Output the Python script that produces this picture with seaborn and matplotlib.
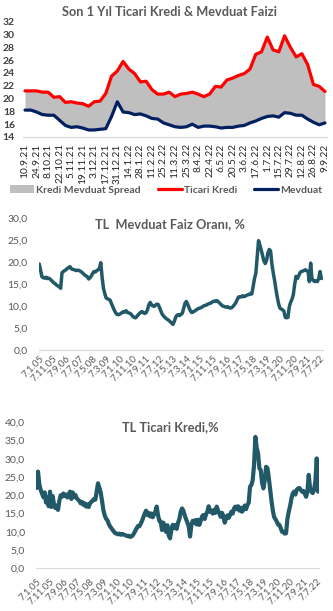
import numpy as np
import pandas as pd
import matplotlib
matplotlib.use("Agg")
import matplotlib.pyplot as plt
from matplotlib.patches import Patch
from matplotlib.lines import Line2D
import seaborn as sns

# ---------------- data ----------------
week_labels = ["10.9.21", "24.9.21", "8.10.21", "22.10.21", "5.11.21", "19.11.21",
               "3.12.21", "17.12.21", "31.12.21", "14.1.22", "28.1.22", "11.2.22",
               "25.2.22", "11.3.22", "25.3.22", "8.4.22", "22.4.22", "6.5.22",
               "20.5.22", "3.6.22", "17.6.22", "1.7.22", "15.7.22", "29.7.22",
               "12.8.22", "26.8.22", "9.9.22"]

ticari_kredi_1y = [21.2, 21.2, 21.2, 21.0, 21.0, 20.2, 20.3, 19.4, 19.5, 19.3,
                   19.2, 18.8, 19.5, 19.6, 20.8, 23.5, 24.3, 25.8, 24.6, 23.9,
                   22.6, 22.7, 21.4, 20.7, 20.7, 21.0, 20.3, 20.7, 20.8, 21.0,
                   20.7, 20.3, 20.7, 21.9, 21.8, 22.9, 23.2, 23.6, 23.9, 24.6,
                   26.9, 27.3, 29.6, 27.6, 27.3, 29.8, 28.0, 26.5, 27.0, 25.3,
                   22.2, 21.9, 21.1]

mevduat_1y = [18.2, 18.2, 17.9, 17.5, 17.4, 17.4, 16.6, 15.8, 15.5, 15.6,
              15.4, 15.1, 15.1, 15.2, 15.3, 17.2, 19.5, 17.9, 17.8, 17.5,
              17.6, 17.3, 16.9, 16.8, 16.2, 15.9, 15.6, 15.5, 15.6, 16.0,
              15.5, 15.7, 15.7, 15.6, 15.4, 15.5, 15.5, 15.7, 15.8, 16.2,
              16.5, 16.9, 17.2, 17.3, 17.1, 17.8, 17.7, 17.4, 17.4, 16.8,
              16.3, 15.9, 16.2]

long_labels = ["7.1.05", "7.11.05", "7.9.06", "7.7.07", "7.5.08", "7.3.09",
               "7.1.10", "7.11.10", "7.9.11", "7.7.12", "7.5.13", "7.3.14",
               "7.1.15", "7.11.15", "7.9.16", "7.7.17", "7.5.18", "7.3.19",
               "7.1.20", "7.11.20", "7.9.21", "7.7.22"]

# monthly readings, Jan 2005 .. Aug 2022
mevduat_long = [
    19.5, 18.0, 16.6, 16.4, 16.3, 16.5, 16.2, 16.3, 16.1, 15.8, 15.5, 15.2,
    15.0, 14.7, 14.5, 14.3, 14.0, 17.5, 17.8, 18.0, 18.2, 18.5, 18.7, 18.9,
    18.4, 18.3, 18.2, 18.1, 18.0, 18.1, 18.0, 17.8, 17.6, 17.3, 17.0, 16.8,
    16.6, 16.1, 16.4, 16.8, 17.4, 17.8, 17.7, 18.0, 18.2, 18.5, 19.8, 16.5,
    14.0, 12.8, 11.8, 11.6, 11.5, 11.3, 10.5, 9.8, 9.1, 8.5, 8.1, 8.0,
    8.1, 8.3, 8.5, 8.7, 8.6, 8.9, 8.5, 8.4, 8.3, 8.0, 7.6, 7.4,
    7.3, 7.6, 8.0, 8.3, 8.6, 8.7, 8.4, 8.3, 8.5, 9.2, 10.3, 10.8,
    10.2, 10.0, 9.9, 10.2, 10.4, 10.3, 9.6, 8.8, 8.1, 7.7, 7.4, 7.1,
    6.9, 6.7, 6.4, 6.1, 5.8, 6.5, 7.4, 7.9, 8.0, 7.8, 8.1, 8.3,
    9.5, 10.6, 11.0, 10.4, 9.6, 8.9, 8.5, 8.6, 8.8, 9.0, 9.2, 9.4,
    9.5, 9.6, 9.8, 10.0, 10.1, 10.2, 10.4, 10.5, 10.6, 10.8, 11.0, 11.1,
    11.0, 11.2, 10.9, 10.6, 10.3, 10.0, 9.9, 9.8, 9.7, 9.8, 9.6, 9.5,
    9.6, 9.9, 10.3, 10.7, 11.4, 12.0, 12.1, 12.0, 12.3, 12.1, 12.2, 12.4,
    12.5, 12.6, 12.8, 12.7, 14.5, 16.2, 17.4, 21.0, 24.8, 23.8, 22.7, 21.5,
    20.2, 19.6, 20.3, 22.0, 22.8, 22.5, 19.5, 17.5, 15.8, 13.8, 12.0, 10.5,
    9.5, 9.3, 9.1, 8.8, 7.4, 7.3, 7.4, 9.8, 10.8, 11.5, 12.5, 14.8,
    16.7, 16.2, 16.8, 17.5, 17.8, 17.9, 18.0, 18.2, 18.0, 17.8, 15.5, 19.7,
    16.0, 15.8, 15.5, 15.7, 15.5, 16.2, 17.8, 16.2]

kredi_long = [
    22.0, 26.5, 23.0, 21.5, 20.5, 19.5, 20.8, 18.0, 19.5, 17.0, 21.0, 16.8,
    19.8, 17.5, 16.5, 17.2, 16.0, 18.5, 20.0, 19.6, 20.5, 19.8, 20.2, 19.4,
    20.3, 21.0, 19.0, 20.8, 19.5, 20.1, 19.2, 18.8, 18.5, 17.8, 18.2, 17.4,
    17.8, 16.9, 17.5, 16.8, 17.8, 18.2, 18.5, 19.0, 18.8, 21.0, 23.3, 22.0,
    20.8, 18.5, 16.0, 14.5, 13.6, 13.2, 12.2, 11.5, 11.0, 10.5, 10.0, 9.6,
    9.5, 9.3, 9.5, 9.2, 9.4, 9.3, 9.1, 9.0, 8.8, 8.9, 8.6, 8.7,
    9.0, 9.6, 10.3, 11.0, 11.6, 11.5, 12.2, 13.0, 14.0, 15.0, 15.8, 14.6,
    15.2, 14.2, 15.0, 14.0, 14.8, 15.5, 16.9, 14.5, 13.0, 12.8, 10.5, 12.5,
    11.0, 10.0, 11.8, 9.0, 8.2, 10.5, 11.9, 11.0, 11.8, 10.8, 12.5, 13.5,
    15.5, 16.4, 15.8, 14.5, 13.5, 12.5, 11.5, 8.7, 11.8, 13.0, 12.5, 13.2,
    12.0, 13.3, 11.9, 13.0, 14.2, 14.6, 13.5, 14.8, 15.5, 17.0, 15.5, 15.8,
    15.0, 16.0, 15.2, 16.9, 15.8, 15.0, 14.1, 15.2, 14.3, 12.5, 13.7, 14.5,
    13.8, 14.6, 15.5, 15.0, 16.4, 16.9, 16.2, 17.0, 15.8, 16.6, 15.5, 16.0,
    17.2, 16.2, 17.3, 18.0, 22.4, 22.8, 24.2, 28.3, 36.0, 33.0, 31.5, 27.4,
    26.9, 23.5, 21.9, 24.0, 27.8, 27.5, 25.0, 21.9, 18.7, 16.0, 14.1, 13.5,
    12.8, 12.0, 11.9, 11.0, 10.0, 10.0, 9.5, 9.6, 13.5, 15.5, 17.0, 19.0,
    20.5, 21.0, 20.2, 21.5, 21.9, 22.0, 21.5, 21.0, 21.2, 20.5, 19.6, 21.0,
    25.6, 22.0, 21.0, 20.6, 21.5, 24.0, 30.1, 21.0]

# ---------------- style ----------------
sns.set_theme(style="white")
plt.rcParams["font.family"] = ["Lato", "DejaVu Sans"]

W, H = 333, 611
fig = plt.figure(figsize=(W / 100, H / 100), dpi=100)
fig.patch.set_facecolor("white")


def px_axes(left, top, right, bottom):
    return fig.add_axes([left / W, 1 - bottom / H, (right - left) / W, (bottom - top) / H])


TXT = "#595959"
AXC = "#D9D9D9"
RED = "#FF0000"
NAVY = "#002060"
GREY = "#BFBFBF"
TEAL = "#215968"

# ---------------- top panel ----------------
ax1 = px_axes(23.3, 21.7, 326.7, 137)
wk = np.arange(len(ticari_kredi_1y))
df1 = pd.DataFrame({"w": wk, "kredi": ticari_kredi_1y, "mevduat": mevduat_1y})
ax1.fill_between(df1["w"], df1["mevduat"], df1["kredi"], color=GREY, lw=0)
sns.lineplot(data=df1, x="w", y="kredi", ax=ax1, color=RED, linewidth=2.3)
sns.lineplot(data=df1, x="w", y="mevduat", ax=ax1, color=NAVY, linewidth=2.3)
ax1.set_xlim(-0.3, len(wk) - 0.7)
ax1.set_ylim(14, 32)
ax1.set_yticks(np.arange(14, 33, 2))
ax1.set_yticklabels([str(v) for v in range(14, 33, 2)], fontsize=7.5,
                    fontweight="bold", color="#404040")
ax1.set_xticks(wk, minor=True)
ax1.set_xticks(wk[::2])
ax1.set_xticklabels(week_labels, rotation=90, fontsize=7.3, color="#262626")
ax1.tick_params(axis="x", which="both", length=3, color=AXC, width=0.8, pad=1.5)
ax1.tick_params(axis="y", length=0, pad=6)
ax1.set_xlabel("")
ax1.set_ylabel("")
for s in ["top", "right", "left"]:
    ax1.spines[s].set_visible(False)
ax1.spines["bottom"].set_color(AXC)
ax1.spines["bottom"].set_linewidth(0.8)
ax1.set_facecolor("none")

fig.text(169 / W, 1 - 12 / H, "Son 1 Yıl Ticari Kredi & Mevduat Faizi",
         ha="center", va="center", fontsize=9.2, fontweight="bold", color=TXT)

handles = [Patch(facecolor=GREY, edgecolor="none"),
           Line2D([], [], color=RED, lw=2.3),
           Line2D([], [], color=NAVY, lw=2.3)]
fig.legend(handles, ["Kredi Mevduat Spread", "Ticari Kredi", "Mevduat"],
           loc="center", bbox_to_anchor=(166 / W, 1 - 190 / H), ncol=3,
           frameon=False, prop={"size": 7.5, "weight": "bold"},
           labelcolor=TXT, handlelength=2.3, handletextpad=0.2,
           columnspacing=1.6, handleheight=0.8)


def long_panel(ax, values, ymax, step, labels, lw, ticks):
    m = np.arange(len(values))
    df = pd.DataFrame({"m": m, "v": values})
    sns.lineplot(data=df, x="m", y="v", ax=ax, color=TEAL, linewidth=lw)
    ax.set_xlim(-0.5, 212)
    ax.set_ylim(0, ymax)
    yt = np.arange(0, ymax + 0.1, step)
    ax.set_yticks(yt)
    ax.set_yticklabels([f"{v:.1f}".replace(".", ",") for v in yt],
                       fontsize=7.5, color=TXT)
    pos = np.arange(0, 10 * len(labels), 10)
    ax.set_xticks(pos)
    ax.set_xticklabels(labels, rotation=45, ha="right", rotation_mode="anchor",
                       fontsize=7, color=TXT)
    ax.tick_params(axis="x", length=3 if ticks else 0, color=AXC, width=0.8,
                   pad=3)
    ax.tick_params(axis="y", length=0, pad=8)
    ax.set_xlabel("")
    ax.set_ylabel("")
    for s in ["top", "right", "left"]:
        ax.spines[s].set_visible(False)
    ax.spines["bottom"].set_color(AXC)
    ax.spines["bottom"].set_linewidth(0.8)
    ax.set_facecolor("none")


# ---------------- middle panel ----------------
ax2 = px_axes(38.6, 217.7, 322.7, 350)
long_panel(ax2, mevduat_long, 30, 5, long_labels, 2.5, False)
fig.text(170 / W, 1 - 224 / H, "TL  Mevduat Faiz Oranı, %", ha="center",
         va="center", fontsize=9.2, fontweight="bold", color=TXT)

# ---------------- bottom panel ----------------
ax3 = px_axes(36.0, 422.3, 319.4, 568.3)
long_panel(ax3, kredi_long, 40, 5, long_labels, 3.0, True)
fig.text(170 / W, 1 - 427 / H, "TL Ticari Kredi,%", ha="center",
         va="center", fontsize=9.2, fontweight="bold", color=TXT)

fig.savefig("out.png", dpi=100, facecolor="white")
